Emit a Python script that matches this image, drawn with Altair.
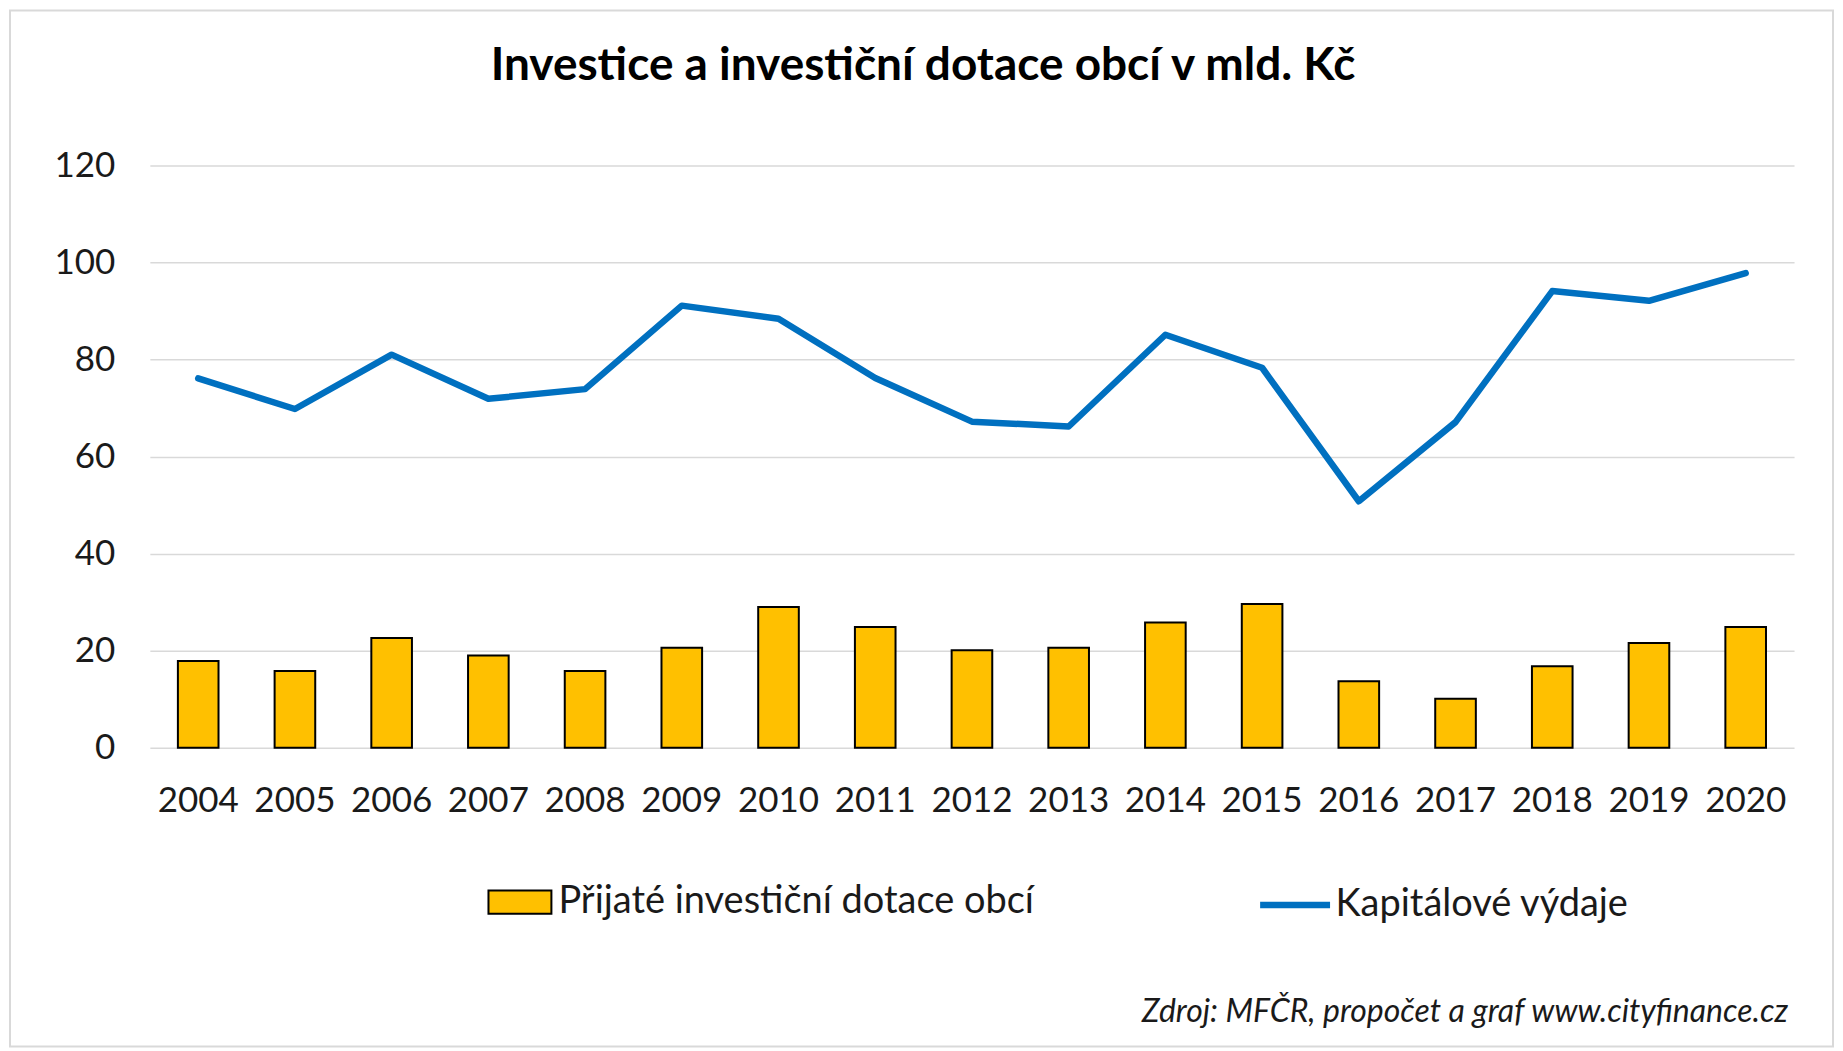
import altair as alt
import pandas as pd

years = ["2004", "2005", "2006", "2007", "2008", "2009", "2010", "2011", "2012",
         "2013", "2014", "2015", "2016", "2017", "2018", "2019", "2020"]
dotace = [17.9, 15.8, 22.6, 19.0, 15.8, 20.6, 29.0, 24.9, 20.1,
          20.6, 25.8, 29.6, 13.7, 10.1, 16.8, 21.6, 24.9]
vydaje = [76.1, 69.8, 81.0, 71.9, 73.9, 91.1, 88.4, 76.2, 67.2,
          66.2, 85.1, 78.3, 50.8, 67.1, 94.1, 92.1, 97.8]
y_ticks = [0, 20, 40, 60, 80, 100, 120]

bar_label = "Přijaté investiční dotace obcí"
line_label = "Kapitálové výdaje"
title_text = "Investice a investiční dotace obcí v mld. Kč"
source_text = "Zdroj: MFČR, propočet a graf www.cityfinance.cz"

W, H = 1646, 583
TEXT = "#1a1a1a"

df = pd.DataFrame({
    "rok": years,
    "dotace": dotace,
    "vydaje": vydaje,
    "s1": [bar_label] * len(years),
    "s2": [line_label] * len(years),
})

x_enc = alt.X(
    "rok:N", sort=years,
    scale=alt.Scale(paddingInner=0.58, paddingOuter=0.29),
    axis=alt.Axis(title=None, labelAngle=0, labelFontSize=35, labelPadding=36,
                  ticks=False, domain=False, grid=False, labelColor=TEXT),
)
y_axis = alt.Axis(values=y_ticks, title=None, grid=True, gridColor="#d9d9d9",
                  gridWidth=1.5, domain=False, ticks=False, labelPadding=35,
                  labelFontSize=35, labelColor=TEXT)
y_scale = alt.Scale(domain=[0, 120], nice=False)

base = alt.Chart(df)

bars = base.mark_bar(stroke="black", strokeWidth=2).encode(
    x=x_enc,
    y=alt.Y("dotace:Q", scale=y_scale, axis=y_axis),
    fill=alt.Fill("s1:N", scale=alt.Scale(domain=[bar_label], range=["#FFC000"]),
                  legend=alt.Legend(title=None, orient="none", legendX=338, legendY=705,
                                    symbolType="M-1,-0.37H1V0.37H-1Z", symbolSize=3969,
                                    symbolStrokeColor="black", symbolStrokeWidth=2,
                                    labelFontSize=38, labelLimit=1000, labelOffset=6,
                                    labelColor=TEXT)),
)

line = base.mark_line(strokeWidth=6.5, strokeJoin="round", strokeCap="round").encode(
    x=x_enc,
    y=alt.Y("vydaje:Q", scale=y_scale, axis=y_axis),
    stroke=alt.Stroke("s2:N", scale=alt.Scale(domain=[line_label], range=["#0070C0"]),
                      legend=alt.Legend(title=None, orient="none", legendX=1108, legendY=702,
                                        symbolType="stroke", symbolSize=4900,
                                        symbolStrokeWidth=6.5, labelFontSize=38,
                                        labelLimit=1000, labelOffset=2, labelColor=TEXT)),
)

one = pd.DataFrame({"a": [0]})
frame = alt.Chart(one).mark_rect(fill="transparent", stroke="#d9d9d9", strokeWidth=2).encode(
    x=alt.value(-140), x2=alt.value(1685), y=alt.value(-155), y2=alt.value(882)
)
title = alt.Chart(one).mark_text(align="center", baseline="middle", fontWeight="bold",
                                 fontSize=46, color="black").encode(
    x=alt.value(774), y=alt.value(-99), text=alt.value(title_text)
)
source = alt.Chart(one).mark_text(align="right", baseline="middle", fontStyle="italic",
                                  fontSize=32, color=TEXT).encode(
    x=alt.value(1640), y=alt.value(848), text=alt.value(source_text)
)

chart = alt.layer(frame, bars, line, title, source).properties(
    width=W, height=H,
    padding={"left": 1, "top": 1, "right": 1, "bottom": 1},
).configure(font="Lato").configure_view(stroke=None)

chart.save("out.html", embed_options={"renderer": "svg", "actions": False})
